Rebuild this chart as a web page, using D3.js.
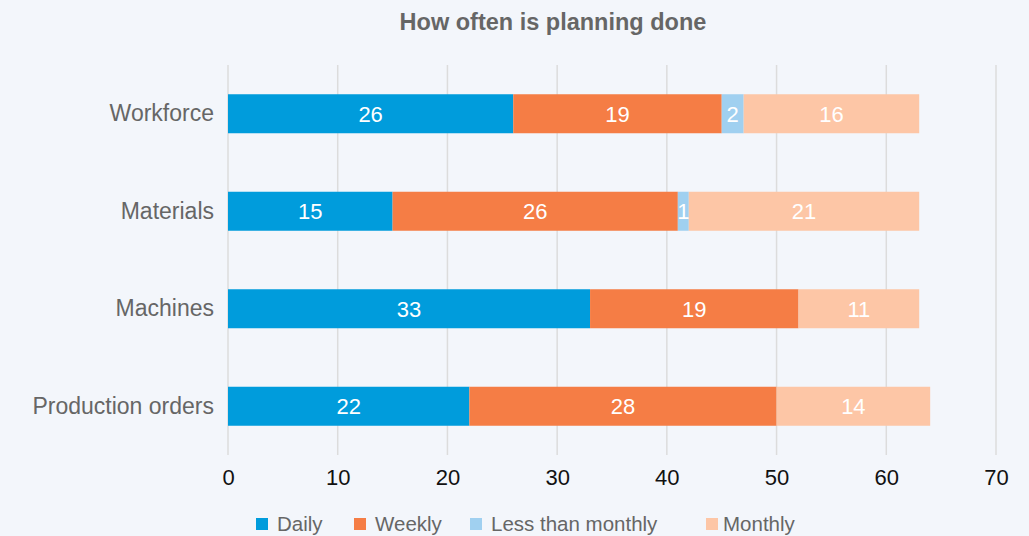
<!DOCTYPE html>
<html>
<head>
<meta charset="utf-8">
<script src="https://cdn.jsdelivr.net/npm/d3@7"></script>
<style>
  body { margin: 0; background: #f3f6fb; }
  svg { display: block; font-family: "Liberation Sans", Arial, sans-serif; }
</style>
</head>
<body>
<div id="chart"></div>
<script>
// categories and series
const categories = ["Workforce", "Materials", "Machines", "Production orders"];
const seriesNames = ["Daily", "Weekly", "Less than monthly", "Monthly"];
const daily = [26, 15, 33, 22];
const weekly = [19, 26, 19, 28];
const lessThanMonthly = [2, 1, 0, 0];
const monthly = [16, 21, 11, 14];
const xTicks = [0, 10, 20, 30, 40, 50, 60, 70];
const colors = ["#009cdc", "#f57d45", "#a0d0f0", "#fdc6a6"];

const width = 1029, height = 536;
const margin = {top: 65, right: 33, bottom: 81, left: 228};

const rows = categories.map((c, i) => ({
  category: c,
  "Daily": daily[i],
  "Weekly": weekly[i],
  "Less than monthly": lessThanMonthly[i],
  "Monthly": monthly[i]
}));

const stack = d3.stack().keys(seriesNames)(rows);

const svg = d3.select("#chart").append("svg")
    .attr("width", width)
    .attr("height", height);

const x = d3.scaleLinear()
    .domain([0, 70])
    .range([margin.left, width - margin.right]);

const y = d3.scaleBand()
    .domain(categories)
    .range([margin.top, height - margin.bottom])
    .paddingInner(0.6)
    .paddingOuter(0.3);

// title
svg.append("text")
    .attr("x", 553)
    .attr("y", 30)
    .attr("text-anchor", "middle")
    .attr("font-size", 23.5)
    .attr("font-weight", "bold")
    .attr("fill", "#666")
    .text("How often is planning done");

// grid
svg.append("g")
  .selectAll("line")
  .data(xTicks)
  .join("line")
    .attr("x1", d => x(d))
    .attr("x2", d => x(d))
    .attr("y1", margin.top)
    .attr("y2", height - margin.bottom)
    .attr("stroke", "#dcdcdc")
    .attr("stroke-width", 1.5);

// x axis labels
const xAxis = svg.append("g")
    .attr("transform", `translate(0,${height - margin.bottom})`)
    .call(d3.axisBottom(x).tickValues(xTicks).tickSize(0).tickPadding(14));
xAxis.select(".domain").remove();
xAxis.selectAll("text")
    .attr("font-size", 22)
    .attr("fill", "#111")
    .attr("font-family", "Liberation Sans, Arial, sans-serif");

// y axis labels
const yAxis = svg.append("g")
    .attr("transform", `translate(${margin.left},0)`)
    .call(d3.axisLeft(y).tickSize(0).tickPadding(14));
yAxis.select(".domain").remove();
yAxis.selectAll("text")
    .attr("font-size", 23)
    .attr("fill", "#666")
    .attr("font-family", "Liberation Sans, Arial, sans-serif");

// bars
const layer = svg.append("g")
  .selectAll("g")
  .data(stack)
  .join("g")
    .attr("fill", (d, i) => colors[i]);

layer.selectAll("rect")
  .data(d => d.filter(s => s[1] - s[0] > 0))
  .join("rect")
    .attr("x", d => x(d[0]))
    .attr("y", d => y(d.data.category))
    .attr("width", d => x(d[1]) - x(d[0]))
    .attr("height", y.bandwidth());

// value labels
svg.append("g")
  .selectAll("g")
  .data(stack)
  .join("g")
  .selectAll("text")
  .data(d => d.filter(s => s[1] - s[0] > 0))
  .join("text")
    .attr("x", d => (x(d[0]) + x(d[1])) / 2)
    .attr("y", d => y(d.data.category) + y.bandwidth() / 2)
    .attr("dy", "0.36em")
    .attr("text-anchor", "middle")
    .attr("font-size", 22)
    .attr("fill", "#fff")
    .text(d => d[1] - d[0]);

// legend
const legendX = [256, 354, 470, 706];
const legend = svg.append("g")
  .selectAll("g")
  .data(seriesNames)
  .join("g")
    .attr("transform", (d, i) => `translate(${legendX[i]},524)`);
legend.append("rect")
    .attr("x", 0)
    .attr("y", -6)
    .attr("width", 12)
    .attr("height", 12)
    .attr("fill", (d, i) => colors[i]);
legend.append("text")
    .attr("x", (d, i) => i === 3 ? 17 : 21)
    .attr("dy", "0.35em")
    .attr("font-size", 20.5)
    .attr("fill", "#666")
    .text(d => d);
</script>
</body>
</html>
